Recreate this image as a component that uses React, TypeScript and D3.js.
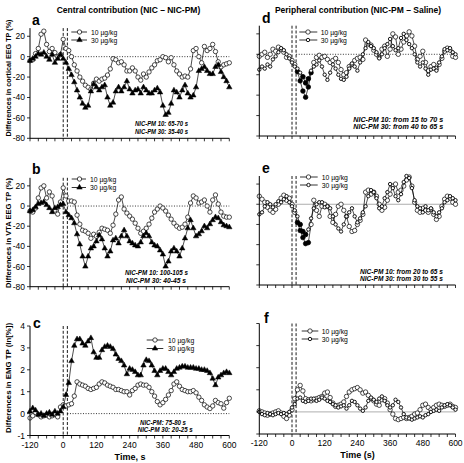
import React from 'react';
import * as d3 from 'd3';

// ---------- categories / ticks ----------
const TIMES = d3.range(-120, 601, 10); // sample times (s)
const X_TICKS = d3.range(-120, 601, 30);
const X_LABELS = [-120, 0, 120, 240, 360, 480, 600];
const PCT_TICKS = [-80, -60, -40, -20, 0, 20];
const LN_TICKS = [-1, 0, 1, 2, 3, 4];
const DOSES = ['10 µg/kg', '30 µg/kg'];
const INJECTION_MARKS = [0, 15];

// ---------- series values (one per 10 s, -120..600) ----------
// a: cortical EEG TP, central contribution
const A10 = [-4, -3, 3, 8, 22, 25, 12, 5, 8, 4, 0, 2,
  17, 8, 6, 0, -8, -14, -20, -24, -28, -30, -32,
  -26, -22, -24, -22, -21, -18, -12, -2, -3, -6,
  -5, -8, -14, -14, -11, -14, -20, -23, -17, -20,
  -15, -11, -8, -4, -3, 0, -1, -5, -1, -8,
  -14, -17, -20, -19, -20, -12, 6, 8, 0, -6,
  10, 6, 8, 12, 5, -5, -10, -8, -7, -6];
const A30 = [-4, -2, 0, 3, 2, 4, 0, -3, 2, -6, -2, 2,
  -2, -6, -12, -18, -25, -33, -40, -46, -50, -48, -34,
  -27, -30, -33, -30, -28, -40, -48, -45, -34, -30,
  -34, -30, -24, -32, -36, -33, -32, -36, -30, -33,
  -36, -36, -33, -31, -35, -48, -57, -55, -46, -33,
  -35, -40, -33, -28, -36, -40, -38, -30, -14, -12,
  -10, -14, -17, -17, -10, -8, -15, -20, -24, -30];
// b: VTA EEG TP, central contribution
const B10 = [-5, -6, -2, 8, 18, 20, 8, 14, 10, -4, -8, 4,
  18, 10, 5, 5, 4, -9, -18, -24, -25, -27, -32,
  -28, -30, -26, -22, -23, -24, -27, -19, -8, 6,
  9, -3, -7, -10, -13, -17, -22, -27, -25, -22,
  -18, -12, -6, -3, 0, -2, -5, -9, -13, -17,
  -20, -22, -21, -18, -11, 3, 10, 8, 3, 4,
  6, 0, -6, 6, 11, 2, -6, -10, -11, -11];
const B30 = [-5, -4, -1, 2, 3, 4, 1, -2, -6, -2, -1, 1,
  2, -6, -9, -12, -17, -28, -38, -50, -60, -50, -42,
  -40, -35, -29, -33, -42, -50, -45, -34, -32, -37,
  -30, -24, -30, -35, -37, -39, -40, -36, -30, -27,
  -30, -36, -39, -40, -44, -48, -60, -55, -45, -42,
  -45, -50, -42, -32, -22, -14, -22, -30, -28, -25,
  -20, -22, -18, -14, -11, -12, -16, -19, -20, -21];
// c: EMG TP (ln[%]), central contribution
const C10 = [-0.2, -0.1, 0.05, -0.05, -0.15, -0.1, -0.05, -0.15, -0.1, -0.05, -0.15, 0.3,
  0.4, 0.35, 0.4, 0.45, 0.8, 1.45, 1.35, 1.3, 1.25, 1.15, 1.1,
  1.15, 1.2, 1.35, 1.45, 1.4, 1.3, 1.25, 1.2, 1.1, 1.1,
  1.05, 1.0, 1.0, 0.85, 1.05, 1.15, 1.3, 1.35, 1.3, 1.3,
  1.2, 1.0, 0.8, 0.55, 0.4, 0.5, 0.65, 0.85, 1.05, 1.35,
  1.45, 1.25, 1.1, 1.05, 1.0, 1.0, 1.05, 0.95, 0.75, 0.6,
  0.4, 0.3, 0.23, 0.35, 0.6, 0.5, 0.45, 0.25, 0.5, 0.7];
const C30 = [0.1, 0.25, 0.15, -0.05, 0.0, -0.1, 0.0, 0.05, -0.05, 0.1, 0.0, 0.1,
  0.3, 0.85, 1.4, 2.4, 3.1, 3.4, 3.4, 3.2, 3.1, 3.3, 3.45,
  2.8, 2.55, 2.55, 2.9, 3.05, 3.1, 3.05, 2.95, 2.7, 2.5,
  2.4, 2.2, 1.8, 2.05, 2.0, 1.9, 1.75, 1.75, 2.2, 2.45,
  2.4, 2.2, 1.95, 1.75, 1.95, 2.05, 2.05, 1.9, 1.75, 1.9,
  2.05, 2.1, 2.15, 2.15, 2.1, 2.1, 2.1, 2.05, 2.05, 2.0,
  2.0, 1.95, 1.85, 1.6, 1.3, 1.65, 1.75, 1.85, 1.9, 1.85];
// d: cortical EEG TP, peripheral contribution
const D10 = [-2, 0, 2, -3, 0, 5, 3, 7, 5, 2, -3, -2,
  -6, -10, -17, -26, -36, -42, -32, -18, -8, -3, -1,
  -3, -2, -5, -8, -6, -4, -8, -15, -20, -18,
  -12, -10, -6, -4, -3, -5, 14, 10, 9, 4,
  0, -3, 5, 8, -2, 5, 20, 17, 0, 5,
  12, 18, 22, 18, 8, -5, -2, 3, -8, -16,
  -12, -10, -14, -10, -4, 3, 6, 4, -2, -3];
const D30 = [-15, -12, -14, -10, -12, -5, -2, 2, 6, 4, 0, -4,
  -8, -12, -14, -18, -22, -28, -24, -16, -12, -10, -6,
  -12, -20, -25, -18, -10, -14, -20, -24, -25, -22,
  -14, -9, -12, -16, -8, 0, 6, 12, 8, 6,
  2, -4, 0, 6, 10, 15, 8, 4, 6, 16,
  20, 14, 10, 6, 0, -8, -12, -8, -14, -20,
  -15, -14, -16, -8, -2, 5, 4, 6, 2, 0];
// e: VTA EEG TP, peripheral contribution
const E10 = [8, 5, 2, -3, -6, -8, -5, 0, 6, 9, 4, 6,
  0, -8, -18, -26, -33, -39, -38, -20, 4, -6, -12,
  -2, 0, -2, -12, -18, -10, -2, 0, -6, -12,
  -22, -27, -26, -20, -16, -10, 12, 14, 10, 12,
  8, 0, -6, -3, 4, 10, 18, 20, 12, 14,
  18, 24, 27, 18, 2, -6, -8, -4, -6, -8,
  -5, -10, -15, -12, -2, 5, 8, 6, 2, 0];
const E30 = [-10, -8, -2, 2, 0, -3, 0, 3, 2, 5, 8, 2,
  -2, -6, -12, -20, -27, -30, -25, -14, -4, 0, 2,
  2, -3, -2, -4, -12, -20, -24, -27, -20, -12,
  -8, -4, -12, -18, -14, -8, -2, 8, 14, 12,
  6, -4, -2, 6, 12, 20, 16, 8, 4, 10,
  22, 28, 26, 16, 4, -2, -4, -8, -2, -6,
  -4, -8, -12, -8, -4, 2, 4, 8, 6, 4];
// f: EMG TP (ln[%]), peripheral contribution
const F10 = [0.05, 0.0, -0.05, -0.15, -0.1, -0.05, 0.0, 0.05, -0.05, -0.2, -0.3, -0.15,
  0.1, 0.6, 1.0, 1.2, 0.95, 0.6, 0.55, 0.5, 0.55, 0.6, 0.65,
  0.7, 0.85, 0.9, 0.65, 0.4, 0.25, 0.3, 0.35, 0.45, 0.7,
  0.9, 1.0, 1.05, 1.1, 1.0, 0.85, 0.9, 0.75, 0.6, 0.5,
  0.35, 0.3, 0.55, 0.6, 0.4, 0.1, -0.1, -0.3, -0.35, -0.3,
  -0.25, -0.3, -0.25, -0.2, -0.1, -0.05, 0.1, 0.3, 0.35, 0.2,
  0.1, 0.2, 0.3, 0.35, 0.3, 0.25, 0.3, 0.35, 0.25, 0.2];
const F30 = [0.0, -0.1, -0.15, -0.05, -0.1, -0.15, -0.1, -0.05, -0.1, -0.05, -0.1, 0.0,
  0.2, 0.35, 0.6, 0.65, 0.5, 0.45, 0.5, 0.6, 0.6, 0.5, 0.55,
  0.65, 0.6, 0.5, 0.45, 0.35, 0.3, 0.2, 0.25, 0.3, 0.15,
  0.3, 0.5, 0.45, 0.3, 0.15, 0.05, 0.2, 0.5, 0.65, 0.55,
  0.45, 0.6, 0.7, 0.5, 0.3, 0.2, 0.3, 0.55, 0.45, 0.2,
  -0.1, -0.25, -0.3, -0.35, -0.3, -0.25, -0.2, -0.25, -0.15, -0.1,
  0.0, 0.05, 0.1, 0.05, 0.2, 0.3, 0.35, 0.3, 0.2, 0.1];

// significance windows (s) – drawn as filled markers
const SIG_D = [[15, 70], [40, 65]];
const SIG_E = [[20, 65], [30, 55]];

const FONT = '"Liberation Sans", Arial, Helvetica, sans-serif';

type Series = { values: number[]; marker: 'circle' | 'triangle' | 'small'; sig?: number[] };

type PanelProps = {
  letter: string;
  xRange: [number, number];
  yDomain: [number, number];
  yRange: [number, number];
  yTicks: number[];
  yTickLabels: boolean;
  xTickLabels: boolean;
  series: Series[];
  zeroStyle: 'dotted' | 'gray';
  letterPos: [number, number];
  legend: { x0: number; x1: number; mx: number; tx: number; y: [number, number] };
  notes: { x: number; y: number; len: number; text: string }[];
};

function Marker({ kind, x, y, filled }: { kind: string; x: number; y: number; filled?: boolean }) {
  if (kind === 'triangle') {
    const p = d3.symbol(d3.symbolTriangle, 13)();
    return <path d={p as string} transform={`translate(${x},${y})`} fill="#000" stroke="#000" strokeWidth={0.5} />;
  }
  const r = kind === 'small' ? 1.7 : 2.2;
  return <circle cx={x} cy={y} r={filled ? 2.3 : r} fill={filled ? '#000' : '#fff'} stroke="#000" strokeWidth={kind === 'small' ? 0.9 : 0.7} />;
}

function Panel(p: PanelProps) {
  const x = d3.scaleLinear().domain([-120, 600]).range(p.xRange);
  const y = d3.scaleLinear().domain(p.yDomain).range(p.yRange);
  const line = d3.line<number>().x((_, i) => x(TIMES[i])).y((v) => y(v));
  const [yb, yt] = p.yRange;
  const [xl, xr] = p.xRange;
  return (
    <g>
      {p.zeroStyle === 'dotted' ? (
        <line x1={x(15)} x2={x(600)} y1={y(0)} y2={y(0)} stroke="#000" strokeWidth={0.8} strokeDasharray="1,1.6" />
      ) : (
        <line x1={x(-120)} x2={x(600)} y1={y(0)} y2={y(0)} stroke="#999" strokeWidth={0.8} />
      )}
      {INJECTION_MARKS.map((t) => (
        <line key={t} x1={x(t)} x2={x(t)} y1={yt} y2={yb} stroke="#000" strokeWidth={0.9} strokeDasharray="3,1.8" />
      ))}
      {p.series.map((s, si) => (
        <g key={si}>
          <path d={line(s.values) as string} fill="none" stroke="#000" strokeWidth={0.7} />
          {s.values.map((v, i) => {
            const t = TIMES[i];
            const filled = s.sig ? t >= s.sig[0] && t <= s.sig[1] : false;
            return <Marker key={i} kind={s.marker} x={x(t)} y={y(v)} filled={filled} />;
          })}
        </g>
      ))}
      <line x1={xl} x2={xr} y1={yb} y2={yb} stroke="#000" strokeWidth={1} />
      <line x1={xl} x2={xl} y1={yb} y2={yt} stroke="#000" strokeWidth={1} />
      {X_TICKS.map((t) => (
        <line key={t} x1={x(t)} x2={x(t)} y1={yb} y2={yb + 3} stroke="#000" strokeWidth={0.8} />
      ))}
      {p.xTickLabels &&
        X_LABELS.map((t) => (
          <text key={t} x={x(t)} y={yb + 12} textAnchor="middle" fontSize={8.5} fontFamily={FONT}>
            {t}
          </text>
        ))}
      {p.yTicks.map((v) => (
        <g key={v}>
          <line x1={xl - 3} x2={xl} y1={y(v)} y2={y(v)} stroke="#000" strokeWidth={0.8} />
          {p.yTickLabels && (
            <text x={xl - 5} y={y(v) + 3} textAnchor="end" fontSize={8.5} fontFamily={FONT}>
              {v}
            </text>
          )}
        </g>
      ))}
      <text x={p.letterPos[0]} y={p.letterPos[1]} fontSize={14} fontWeight="bold" fontFamily={FONT}>
        {p.letter}
      </text>
      {DOSES.map((d, i) => (
        <g key={d}>
          <line x1={p.legend.x0} x2={p.legend.x1} y1={p.legend.y[i]} y2={p.legend.y[i]} stroke="#000" strokeWidth={0.8} />
          <Marker kind={p.series[i].marker} x={p.legend.mx} y={p.legend.y[i]} />
          <text x={p.legend.tx} y={p.legend.y[i] + 2.5} fontSize={6.8} fontFamily={FONT} fill="#000">
            {d}
          </text>
        </g>
      ))}
      {p.notes.map((n, i) => (
        <text key={i} x={n.x} y={n.y} fontSize={7} fontWeight="bold" fontStyle="italic" fontFamily={FONT}
          textLength={n.len} lengthAdjust="spacingAndGlyphs">
          {n.text}
        </text>
      ))}
    </g>
  );
}

function YTitle({ x, y, len, text }: { x: number; y: number; len: number; text: string }) {
  return (
    <text transform={`translate(${x},${y}) rotate(-90)`} textAnchor="middle" fontSize={8} fontWeight="bold"
      fontFamily={FONT} textLength={len} lengthAdjust="spacingAndGlyphs">
      {text}
    </text>
  );
}

export default function App() {
  const L: [number, number] = [30, 229.3];
  const R: [number, number] = [259.3, 455.5];
  return (
    <svg width={464} height={463} style={{ position: 'absolute', left: 0, top: 0, background: '#fff' }}>
      <rect width={464} height={463} fill="#fff" />
      <text x={128.5} y={12.5} textAnchor="middle" fontSize={8.5} fontWeight="bold" fontFamily={FONT}>
        Central contribution (NIC – NIC-PM)
      </text>
      <text x={358} y={12.5} textAnchor="middle" fontSize={8.5} fontWeight="bold" fontFamily={FONT}>
        Peripheral contribution (NIC-PM – Saline)
      </text>
      <YTitle x={10.5} y={78} len={117} text="Differences in cortical EEG TP (%)" />
      <YTitle x={10.5} y={233} len={110} text="Differences in VTA EEG TP (%)" />
      <YTitle x={10.5} y={378} len={110} text="Differences in EMG TP (ln[%])" />

      <Panel letter="a" xRange={L} yDomain={[-80, 28]} yRange={[138.3, 28.1]} yTicks={PCT_TICKS} yTickLabels
        xTickLabels={false} zeroStyle="dotted" letterPos={[32, 25]}
        series={[{ values: A10, marker: 'circle' }, { values: A30, marker: 'triangle' }]}
        legend={{ x0: 71.3, x1: 87, mx: 79.5, tx: 91, y: [32, 40] }}
        notes={[{ x: 135, y: 126, len: 53, text: 'NIC-PM 10: 65-70 s' }, { x: 135, y: 133.5, len: 53, text: 'NIC-PM 30: 35-40 s' }]} />
      <Panel letter="b" xRange={L} yDomain={[-80, 28]} yRange={[286.7, 177.8]} yTicks={PCT_TICKS} yTickLabels
        xTickLabels={false} zeroStyle="dotted" letterPos={[32, 174]}
        series={[{ values: B10, marker: 'circle' }, { values: B30, marker: 'triangle' }]}
        legend={{ x0: 71.7, x1: 86, mx: 79.5, tx: 90, y: [179, 187.5] }}
        notes={[{ x: 125, y: 274.5, len: 63, text: 'NIC-PM 10: 100-105 s' }, { x: 126, y: 282.5, len: 60, text: 'NIC-PM 30: 40-45 s' }]} />
      <Panel letter="c" xRange={L} yDomain={[-1, 4]} yRange={[435.5, 326]} yTicks={LN_TICKS} yTickLabels
        xTickLabels zeroStyle="dotted" letterPos={[33, 328]}
        series={[{ values: C10, marker: 'circle' }, { values: C30, marker: 'triangle' }]}
        legend={{ x0: 146.7, x1: 163.3, mx: 155, tx: 168, y: [340, 348.5] }}
        notes={[{ x: 140, y: 425, len: 46, text: 'NIC-PM: 75-80 s' }, { x: 137.7, y: 431.5, len: 55, text: 'NIC-PM 30: 20-25 s' }]} />

      <Panel letter="d" xRange={R} yDomain={[-80, 28]} yRange={[136, 25.7]} yTicks={PCT_TICKS} yTickLabels={false}
        xTickLabels={false} zeroStyle="dotted" letterPos={[262, 23]}
        series={[{ values: D10, marker: 'circle', sig: SIG_D[0] }, { values: D30, marker: 'small', sig: SIG_D[1] }]}
        legend={{ x0: 299.3, x1: 317.3, mx: 308, tx: 320.7, y: [32, 40] }}
        notes={[{ x: 353.3, y: 121.5, len: 90, text: 'NIC-PM 10: from 15 to 70 s' }, { x: 353.3, y: 128.5, len: 90, text: 'NIC-PM 30: from 40 to 65 s' }]} />
      <Panel letter="e" xRange={R} yDomain={[-80, 28]} yRange={[285, 176]} yTicks={PCT_TICKS} yTickLabels={false}
        xTickLabels={false} zeroStyle="gray" letterPos={[262, 173]}
        series={[{ values: E10, marker: 'circle', sig: SIG_E[0] }, { values: E30, marker: 'small', sig: SIG_E[1] }]}
        legend={{ x0: 300, x1: 317.7, mx: 308.5, tx: 321.7, y: [177, 185] }}
        notes={[{ x: 360, y: 274, len: 83, text: 'NIC-PM 10:  from 20 to 65 s' }, { x: 360, y: 281, len: 83, text: 'NIC-PM 30: from 30 to 55 s' }]} />
      <Panel letter="f" xRange={R} yDomain={[-1, 4]} yRange={[434, 323.5]} yTicks={LN_TICKS} yTickLabels={false}
        xTickLabels zeroStyle="gray" letterPos={[264, 323]}
        series={[{ values: F10, marker: 'circle' }, { values: F30, marker: 'small' }]}
        legend={{ x0: 301.7, x1: 318.3, mx: 310, tx: 321.7, y: [331, 339] }}
        notes={[]} />

      <text x={130} y={460} textAnchor="middle" fontSize={9} fontWeight="bold" fontFamily={FONT}>
        Time,  s
      </text>
      <text x={357.5} y={458} textAnchor="middle" fontSize={9} fontWeight="bold" fontFamily={FONT}>
        Time (s)
      </text>
    </svg>
  );
}
